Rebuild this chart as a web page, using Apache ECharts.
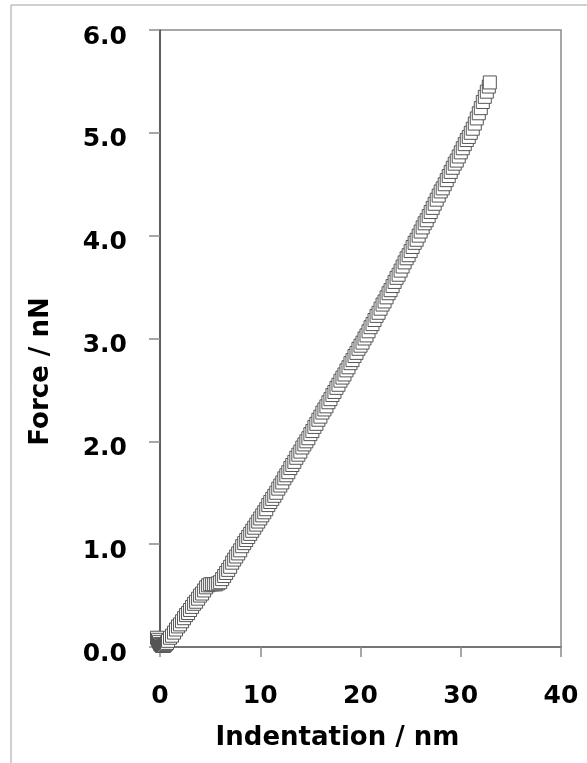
<!DOCTYPE html>
<html lang="en">
<head>
    <meta charset="UTF-8">
    <title>Force vs indentation</title>
    <script src="https://cdn.jsdelivr.net/npm/echarts@6/dist/echarts.min.js"></script>
    <style>
        html, body { margin: 0; padding: 0; background: #fff; }
    </style>
</head>
<body>
    <div id="main" style="width:587px; height:763px"></div>
    <script type="text/javascript">
        // indentation (nm) and force (nN)
        var indentation = [
            -0.3, -0.2, -0.1, 0.0, 0.1, 0.2, 0.3, 0.4, 0.5, 0.6, 0.7, 0.8,
            1.0, 1.2, 1.4, 1.6, 1.8, 2.0, 2.2, 2.4, 2.6, 2.8, 3.0, 3.2, 3.4, 3.6, 3.8, 4.0, 4.2, 4.4, 4.6,
            4.8, 5.0, 5.2, 5.4, 5.6, 5.8, 6.0,
            6.2, 6.4, 6.6, 6.8, 7.0, 7.2, 7.4, 7.6, 7.8, 8.0, 8.2,
            8.4, 8.6, 8.8, 9.0, 9.2, 9.4, 9.6, 9.8, 10.0,
            10.2, 10.4, 10.6, 10.8, 11.0, 11.2, 11.4, 11.6, 11.8, 12.0,
            12.2, 12.4, 12.6, 12.8, 13.0, 13.2, 13.4, 13.6, 13.8, 14.0, 14.2, 14.4, 14.6,
            14.8, 15.0, 15.2, 15.4, 15.6, 15.8, 16.0, 16.2, 16.4, 16.6, 16.8, 17.0, 17.2, 17.4,
            17.6, 17.8, 18.0, 18.2, 18.4, 18.6, 18.8, 19.0, 19.2, 19.4, 19.6, 19.8, 20.0, 20.2, 20.4,
            20.6, 20.8, 21.0, 21.2, 21.4, 21.6, 21.8, 22.0, 22.2, 22.4, 22.6, 22.8, 23.0, 23.2,
            23.4, 23.6, 23.8, 24.0, 24.2, 24.4, 24.6, 24.8, 25.0, 25.2, 25.4, 25.6, 25.8, 26.0,
            26.2, 26.4, 26.6, 26.8, 27.0, 27.2, 27.4, 27.6, 27.8, 28.0, 28.2, 28.4, 28.6,
            28.8, 29.0, 29.2, 29.4, 29.6, 29.8, 30.0, 30.2, 30.4, 30.6, 30.8, 31.0, 31.2,
            31.4, 31.6, 31.8, 32.0, 32.2, 32.4, 32.6, 32.8, 32.9
        ];
        var force = [
            0.09, 0.07, 0.05, 0.03, 0.02, 0.01, 0.01, 0.01, 0.02, 0.03, 0.04, 0.06,
            0.09, 0.11, 0.14, 0.17, 0.20, 0.22, 0.25, 0.28, 0.31, 0.33, 0.36, 0.39, 0.42, 0.44, 0.47, 0.50, 0.52, 0.55, 0.58,
            0.60, 0.61, 0.61, 0.61, 0.61, 0.62, 0.63,
            0.66, 0.69, 0.72, 0.75, 0.78, 0.82, 0.85, 0.88, 0.91, 0.94, 0.98,
            1.01, 1.04, 1.07, 1.10, 1.13, 1.16, 1.19, 1.22, 1.25,
            1.28, 1.31, 1.34, 1.38, 1.41, 1.44, 1.47, 1.50, 1.54, 1.57,
            1.60, 1.64, 1.67, 1.70, 1.74, 1.77, 1.80, 1.84, 1.87, 1.90, 1.94, 1.97, 2.00,
            2.03, 2.07, 2.10, 2.14, 2.17, 2.21, 2.24, 2.28, 2.31, 2.34, 2.38, 2.41, 2.45, 2.48,
            2.52, 2.55, 2.59, 2.62, 2.65, 2.69, 2.72, 2.76, 2.79, 2.83, 2.86, 2.90, 2.93, 2.96, 3.00,
            3.03, 3.07, 3.11, 3.14, 3.18, 3.22, 3.25, 3.29, 3.33, 3.36, 3.40, 3.44, 3.47, 3.51,
            3.55, 3.59, 3.62, 3.66, 3.70, 3.74, 3.78, 3.81, 3.85, 3.89, 3.93, 3.96, 4.00, 4.04,
            4.08, 4.12, 4.15, 4.19, 4.23, 4.27, 4.31, 4.35, 4.39, 4.43, 4.46, 4.50, 4.54,
            4.58, 4.62, 4.66, 4.70, 4.73, 4.77, 4.81, 4.85, 4.89, 4.93, 4.96, 5.00, 5.04,
            5.09, 5.14, 5.19, 5.24, 5.30, 5.35, 5.40, 5.45, 5.49
        ];

        var xTicks = [0, 10, 20, 30, 40];
        var yTicks = [0, 1, 2, 3, 4, 5, 6];

        var points = indentation.map(function (d, i) { return [d, force[i]]; });

        var font = 'DejaVu Sans';
        var myChart = echarts.init(document.getElementById('main'));

        var option = {
            animation: false,
            backgroundColor: '#fff',
            graphic: [{
                // thin outer frame of the figure (left and top edges visible)
                type: 'rect',
                shape: { x: 11, y: 5, width: 700, height: 900 },
                style: { fill: 'none', stroke: '#a0a0a0', lineWidth: 1 },
                silent: true
            }],
            grid: {
                left: 160,
                right: 26,
                top: 30,
                bottom: 116,
                show: true,
                borderColor: '#8a8a8a',
                borderWidth: 1.5
            },
            xAxis: {
                type: 'value',
                min: xTicks[0],
                max: xTicks[xTicks.length - 1],
                interval: 10,
                name: 'Indentation / nm',
                nameLocation: 'middle',
                nameGap: 78,
                nameTextStyle: {
                    fontFamily: font, fontWeight: 'bold', fontSize: 26, color: '#000',
                    padding: [0, 46, 0, 0]
                },
                axisLine: { show: true, lineStyle: { color: '#666', width: 1.5 } },
                axisTick: { show: true, inside: false, length: 10, lineStyle: { color: '#8a8a8a', width: 1.5 } },
                axisLabel: {
                    margin: 37,
                    fontFamily: font, fontWeight: 'bold', fontSize: 25, color: '#000'
                },
                splitLine: { show: false }
            },
            yAxis: {
                type: 'value',
                min: yTicks[0],
                max: yTicks[yTicks.length - 1],
                interval: 1,
                name: 'Force / nN',
                nameLocation: 'middle',
                nameGap: 106,
                nameTextStyle: {
                    fontFamily: font, fontWeight: 'bold', fontSize: 26, color: '#000',
                    padding: [0, 66, 0, 0]
                },
                axisLine: { show: true, lineStyle: { color: '#444', width: 1.5 } },
                axisTick: { show: true, inside: false, length: 11, lineStyle: { color: '#8a8a8a', width: 1.5 } },
                axisLabel: {
                    margin: 33,
                    verticalAlign: 'top',
                    lineHeight: 14,
                    fontFamily: font, fontWeight: 'bold', fontSize: 25, color: '#000',
                    formatter: function (v) { return v.toFixed(1); }
                },
                splitLine: { show: false }
            },
            series: [{
                type: 'scatter',
                data: points,
                symbol: 'rect',
                symbolSize: 13,
                clip: false,
                itemStyle: { color: '#fff', borderColor: '#555', borderWidth: 1, opacity: 1 },
                emphasis: { disabled: true }
            }]
        };

        myChart.setOption(option);
    </script>
</body>
</html>
